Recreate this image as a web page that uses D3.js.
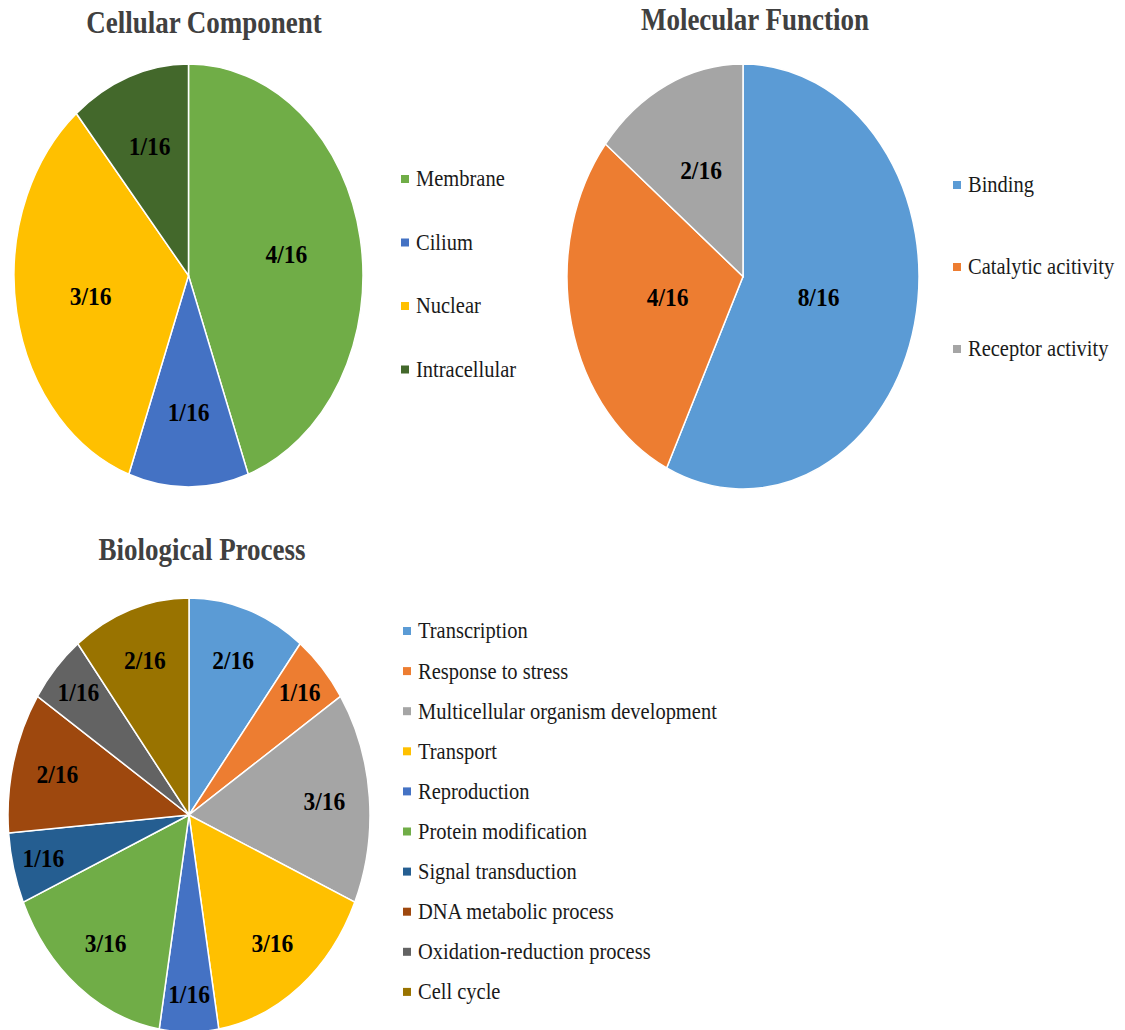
<!DOCTYPE html>
<html>
<head>
<meta charset="utf-8">
<script src="https://cdn.jsdelivr.net/npm/d3@7"></script>
<style>
  body { margin: 0; background: #fff; }
  svg { display: block; }
  .pie-title { font-family: "Liberation Serif", "Times New Roman", serif; font-weight: bold; font-size: 27px; fill: #404040; }
  .slice-label { font-family: "Liberation Serif", "Times New Roman", serif; font-weight: bold; font-size: 23.5px; fill: #000; }
  .legend-text { font-family: "Liberation Serif", "Times New Roman", serif; font-size: 20.5px; fill: #1a1a1a; }
</style>
</head>
<body>
<div id="chart"></div>
<script>
// GO annotation counts (labels read as n/16)
const ccCategories = ['Membrane', 'Cilium', 'Nuclear', 'Intracellular'];
const ccValues = [4, 1, 3, 1];
const ccColors = ['#70AD47', '#4472C4', '#FFC000', '#43682B'];

const mfCategories = ['Binding', 'Catalytic acitivity', 'Receptor activity'];
const mfValues = [8, 4, 2];
const mfColors = ['#5B9BD5', '#ED7D31', '#A5A5A5'];

const bpCategories = ['Transcription', 'Response to stress', 'Multicellular organism development',
  'Transport', 'Reproduction', 'Protein modification', 'Signal transduction',
  'DNA metabolic process', 'Oxidation-reduction process', 'Cell cycle'];
const bpValues = [2, 1, 3, 3, 1, 3, 1, 2, 1, 2];
const bpColors = ['#5B9BD5', '#ED7D31', '#A5A5A5', '#FFC000', '#4472C4',
  '#70AD47', '#255E91', '#9E480E', '#636363', '#997300'];

const total = 16;

const width = 1125;
const height = 1030;

// the original figure was stretched vertically, text included
const titleStretch = 1.17;
const labelStretch = 1.1;
const legendStretch = 1.1;

const svg = d3.select('#chart')
  .append('svg')
  .attr('width', width)
  .attr('height', height);

/**
 * Draw one (slightly stretched) pie with its title and legend
 */
function drawPie(opts) {
  const { title, titleX, titleY, cx, cy, rx, ry, categories, values, colors,
    labelFrac, smallFrac, smallAngle, legendX, legendY, legendStep } = opts;

  const color = d3.scaleOrdinal().domain(categories).range(colors);
  const pie = d3.pie().sort(null).value(d => d.value);
  const arcs = pie(categories.map((c, i) => ({ name: c, value: values[i] })));
  const sy = ry / rx;

  svg.append('text')
    .attr('class', 'pie-title')
    .attr('text-anchor', 'middle')
    .attr('transform', `translate(${titleX},${titleY}) scale(1,${titleStretch})`)
    .text(title);

  const arc = d3.arc().innerRadius(0).outerRadius(rx);

  const g = svg.append('g')
    .attr('transform', `translate(${cx},${cy}) scale(1,${sy})`);

  g.selectAll('path')
    .data(arcs)
    .join('path')
    .attr('d', arc)
    .attr('fill', d => color(d.data.name))
    .attr('stroke', '#fff')
    .attr('stroke-width', 1.5)
    .attr('vector-effect', 'non-scaling-stroke');

  // labels placed outside the scaled group so the text is not squashed twice
  const labels = svg.append('g').attr('transform', `translate(${cx},${cy})`);
  labels.selectAll('text')
    .data(arcs)
    .join('text')
    .attr('class', 'slice-label')
    .attr('text-anchor', 'middle')
    .attr('dy', '0.32em')
    .attr('transform', d => {
      const small = (d.endAngle - d.startAngle) < smallAngle;
      const r = rx * (small ? smallFrac : labelFrac);
      const [x, y] = d3.arc().innerRadius(r).outerRadius(r).centroid(d);
      return `translate(${x},${y * sy}) scale(1,${labelStretch})`;
    })
    .text(d => `${d.data.value}/${total}`);

  const legend = svg.append('g');
  const items = legend.selectAll('g')
    .data(categories)
    .join('g')
    .attr('transform', (d, i) => `translate(${legendX},${legendY + i * legendStep})`);

  items.append('rect')
    .attr('x', 0)
    .attr('y', -4)
    .attr('width', 8)
    .attr('height', 8)
    .attr('fill', d => color(d));

  items.append('text')
    .attr('class', 'legend-text')
    .attr('transform', `translate(15,0) scale(1,${legendStretch})`)
    .attr('dy', '0.33em')
    .text(d => d);
}

drawPie({
  title: 'Cellular Component', titleX: 204, titleY: 33,
  cx: 188.5, cy: 275.5, rx: 174.5, ry: 211.5,
  categories: ccCategories, values: ccValues, colors: ccColors,
  labelFrac: 0.57, smallFrac: 0.65, smallAngle: 0.8,
  legendX: 401, legendY: 179, legendStep: 63.5
});

drawPie({
  title: 'Molecular Function', titleX: 755, titleY: 30,
  cx: 743, cy: 276.5, rx: 176, ry: 212.5,
  categories: mfCategories, values: mfValues, colors: mfColors,
  labelFrac: 0.44, smallFrac: 0.55, smallAngle: 1.0,
  legendX: 953, legendY: 185, legendStep: 82
});

drawPie({
  title: 'Biological Process', titleX: 202, titleY: 560,
  cx: 189, cy: 815, rx: 181, ry: 217,
  categories: bpCategories, values: bpValues, colors: bpColors,
  labelFrac: 0.75, smallFrac: 0.83, smallAngle: 0.4,
  legendX: 403, legendY: 631, legendStep: 40.1
});
</script>
</body>
</html>
